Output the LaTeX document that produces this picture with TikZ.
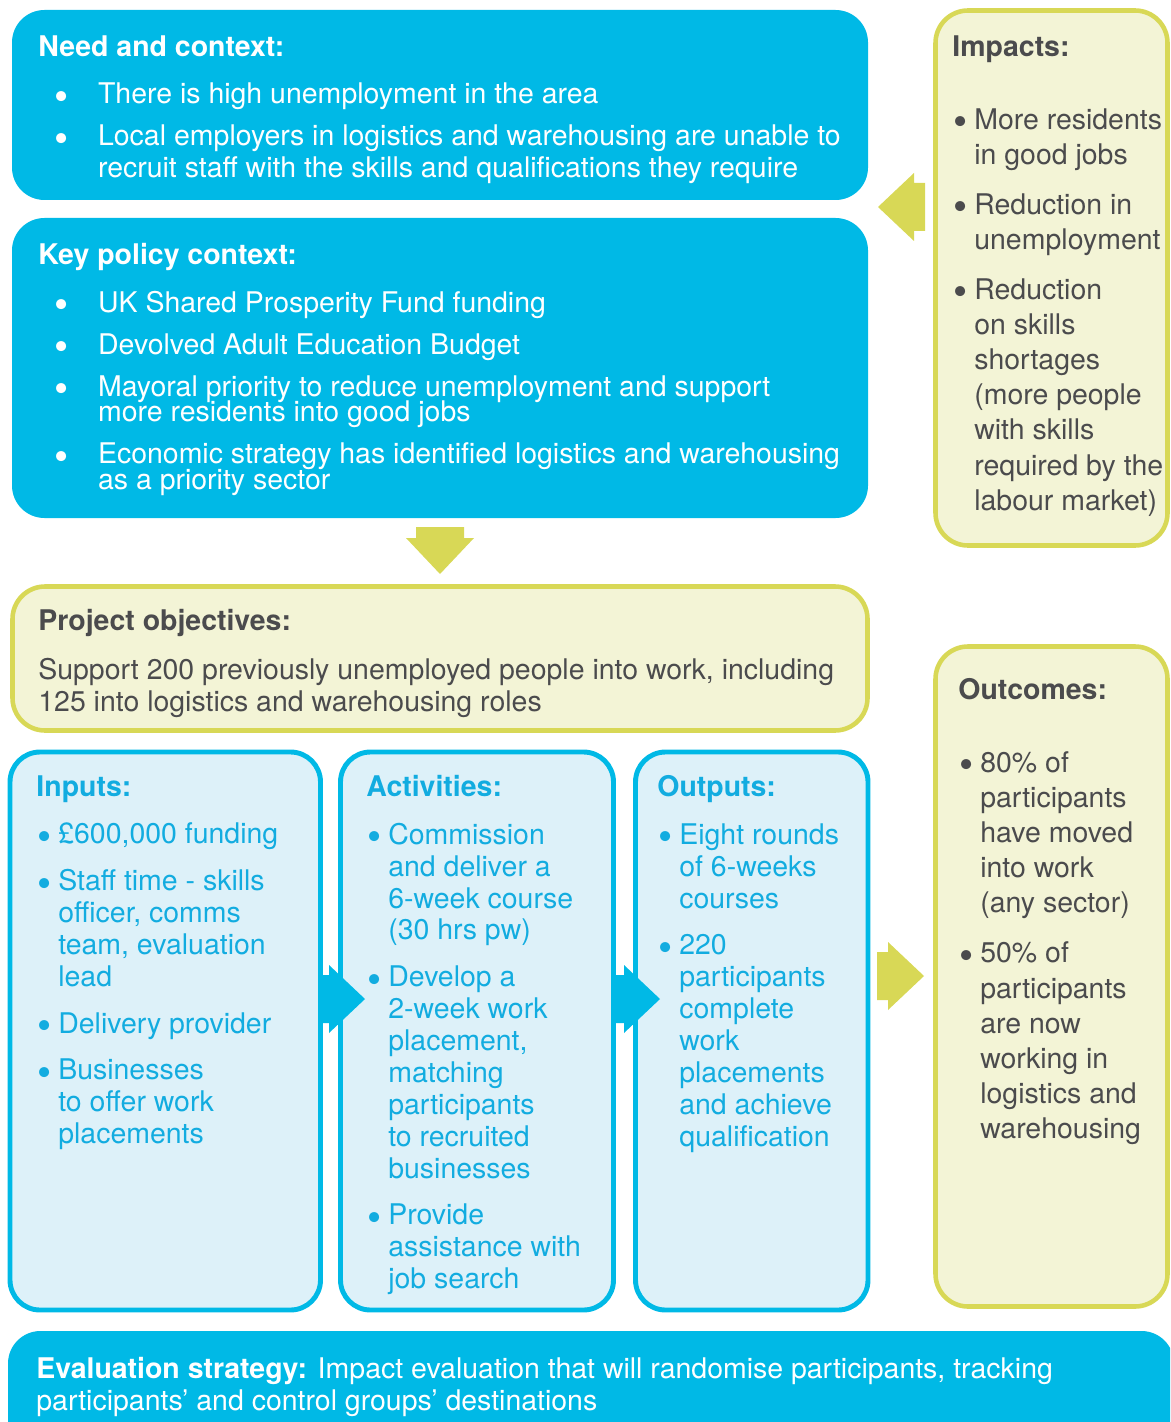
\documentclass[tikz,border=0pt]{standalone}
\usepackage{fontspec}
\setmainfont{TeX Gyre Heros}
\usetikzlibrary{positioning, fit, shapes}

\definecolor{eucyan}{HTML}{00B9E6}
\definecolor{cyantext}{HTML}{12ACE0}
\definecolor{paleblue}{HTML}{DDF1F9}
\definecolor{limeline}{HTML}{D8D856}
\definecolor{palelime}{HTML}{F3F4D6}
\definecolor{inkgrey}{HTML}{4B4B4D}

% bullets: wide boxes and narrow column boxes
\newcommand{\dotb}{\raisebox{-3.6pt}{\fontsize{23pt}{0pt}\selectfont\textbullet}}
\newcommand{\wb}{\hspace*{9.2pt}\makebox[24.8pt][l]{\dotb}}
\newcommand{\wc}{\hspace*{34pt}}
\newcommand{\nb}{\hspace*{0.8pt}\makebox[11.7pt][l]{\dotb}}
\newcommand{\nc}{\hspace*{12.5pt}}
\newcommand{\setfs}[1]{\fontsize{16.2pt}{#1}\selectfont\lineskiplimit=-100pt}

\tikzstyle{cyanbox} = [rectangle, rounded corners=0.65cm, fill=eucyan, inner sep=0pt]
\tikzstyle{bluebox} = [rectangle, rounded corners=0.6cm, draw=eucyan, line width=2.8pt, fill=paleblue, inner sep=0pt]
\tikzstyle{limebox} = [rectangle, rounded corners=0.65cm, draw=limeline, line width=2.6pt, fill=palelime, inner sep=0pt]
% top of each text block sits 12.5pt above the first baseline
\tikzstyle{body} = [anchor=north west, align=left, inner sep=0pt, font=\setfs{18.14pt},
                    execute at begin node=\rule{0pt}{12.5pt}]
\tikzset{
  pics/blockarrow/.style={code={
    \fill (0,-24) -- (11,-24) -- (11,-34) -- (47,0) -- (11,34) -- (11,24) -- (0,24) -- cycle;
  }}
}

\begin{document}
\begin{tikzpicture}[x=0.02cm, y=-0.02cm]
    \clip (0,0) rectangle (1170,1422);

        % Boxes
        \node (need) [cyanbox, fit={(12,10) (868,200)}] {};
        \node (policy) [cyanbox, fit={(12,218) (868,518)}] {};
        \node (objectives) [limebox, fit={(12.5,586.5) (867.5,730.5)}] {};
        \node (inputs) [bluebox, fit={(10,752) (320.5,1310)}] {};
        \node (activities) [bluebox, fit={(340.5,752) (613.5,1310)}] {};
        \node (outputs) [bluebox, fit={(635.5,752) (868,1310)}] {};
        \node (impacts) [limebox, fit={(935.5,10.5) (1167.5,545.5)}] {};
        \node (outcomes) [limebox, fit={(935.5,646.5) (1167.5,1306.5)}] {};
        \node (evaluation) [cyanbox, fit={(8,1331) (1174,1470)}] {};

        % Arrows
        \pic [fill=limeline, rotate=180] at (925,207) {blockarrow};
        \pic [fill=limeline, rotate=-90] at (440,527) {blockarrow};
        \pic [fill=eucyan] at (318,999) {blockarrow};
        \pic [fill=eucyan] at (613,999) {blockarrow};
        \pic [fill=limeline] at (877,976) {blockarrow};

        % Texts
        \node (needtxt) [body, text=white] at (38,35) {\textbf{Need and context:}\\[9.07pt]
\wb There is high unemployment in the area\\[5.67pt]
\wb Local employers in logistics and warehousing are unable to\\
\wc recruit staff with the skills and qualifications they require};

        \node (policytxt) [body, text=white, font=\setfs{14.74pt}] at (38,243) {\textbf{Key policy context:}\\[12.47pt]
\wb UK Shared Prosperity Fund funding\\[9.07pt]
\wb Devolved Adult Education Budget\\[9.07pt]
\wb Mayoral priority to reduce unemployment and support\\
\wc more residents into good jobs\\[9.07pt]
\wb Economic strategy has identified logistics and warehousing\\
\wc as a priority sector};

        \node (objtxt) [body, text=inkgrey] at (38,609) {\textbf{Project objectives:}\\[9.6pt]
Support 200 previously unemployed people into work, including\\
125 into logistics and warehousing roles};

        \node (inputtxt) [body, text=cyantext] at (36,775) {\textbf{Inputs:}\\[9.07pt]
\nb £600,000 funding\\[8.5pt]
\nb Staff time - skills\\
\nc officer, comms\\
\nc team, evaluation\\
\nc lead\\[8.5pt]
\nb Delivery provider\\[8.5pt]
\nb Businesses\\
\nc to offer work\\
\nc placements};

        \node (activitytxt) [body, text=cyantext] at (366,775) {\textbf{Activities:}\\[9.07pt]
\nb Commission\\
\nc and deliver a\\
\nc 6-week course\\
\nc (30 hrs pw)\\[8.5pt]
\nb Develop a\\
\nc 2-week work\\
\nc placement,\\
\nc matching\\
\nc participants\\
\nc to recruited\\
\nc businesses\\[8.5pt]
\nb Provide\\
\nc assistance with\\
\nc job search};

        \node (outputtxt) [body, text=cyantext] at (657,775) {\textbf{Outputs:}\\[9.07pt]
\nb Eight rounds\\
\nc of 6-weeks\\
\nc courses\\[8.5pt]
\nb 220\\
\nc participants\\
\nc complete\\
\nc work\\
\nc placements\\
\nc and achieve\\
\nc qualification};

        \node (impacttxt) [body, text=inkgrey, font=\setfs{20pt}] at (952,35) {\textbf{Impacts:}\\[21.5pt]
\nb More residents\\
\nc in good jobs\\[8.5pt]
\nb Reduction in\\
\nc unemployment\\[8.5pt]
\nb Reduction\\
\nc on skills\\
\nc shortages\\
\nc (more people\\
\nc with skills\\
\nc required by the\\
\nc labour market)};

        \node (outcometxt) [body, text=inkgrey, font=\setfs{20pt}] at (958,678) {\textbf{Outcomes:}\\[21.5pt]
\nb 80\% of\\
\nc participants\\
\nc have moved\\
\nc into work\\
\nc (any sector)\\[8.5pt]
\nb 50\% of\\
\nc participants\\
\nc are now\\
\nc working in\\
\nc logistics and\\
\nc warehousing};

        \node (evaltxt) [body, text=white] at (36,1357) {\textbf{Evaluation strategy:} Impact evaluation that will randomise participants, tracking\\
participants’ and control groups’ destinations};

    \end{tikzpicture}
\end{document}
